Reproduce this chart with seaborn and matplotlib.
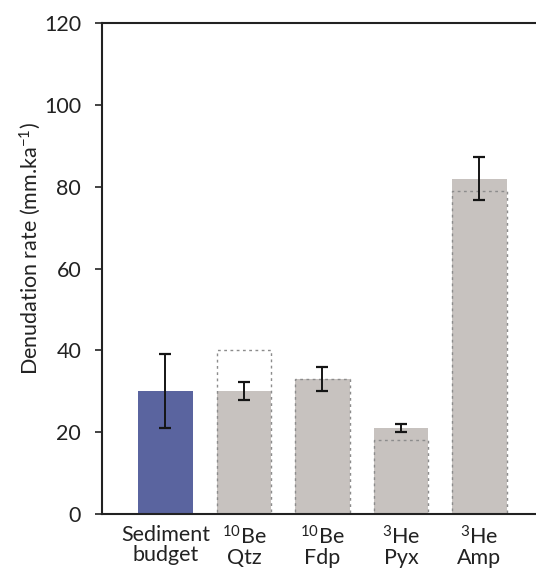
import numpy as np
import pandas as pd
import matplotlib
matplotlib.use("Agg")
import matplotlib.pyplot as plt
import seaborn as sns

# Denudation rates per method (mm/ka)
categories = ["Sediment\nbudget", "$^{10}$Be\nQtz", "$^{10}$Be\nFdp", "$^{3}$He\nPyx", "$^{3}$He\nAmp"]
rates = [30, 30, 33, 21, 82]
errors = [9, 2.2, 3, 1, 5.2]
# Alternative estimates shown as dashed outlines (no value for the sediment budget)
alt_categories = categories[1:]
alt_rates = [40, 33, 18, 79]

bar_colors = ["#4e5cab", "#c9c1bd", "#c9c1bd", "#c9c1bd", "#c9c1bd"]

sns.set_theme(style="white")
plt.rcParams["font.family"] = ["Lato", "DejaVu Sans"]
plt.rcParams["mathtext.fontset"] = "custom"
plt.rcParams["mathtext.rm"] = "Lato"
plt.rcParams["mathtext.it"] = "Lato:italic"
plt.rcParams["mathtext.bf"] = "Lato:bold"

FS = 15.5

fig = plt.figure(figsize=(5.36, 5.70), dpi=100)
ax = fig.add_axes([0.1903, 0.0982, 0.8097, 0.8614])

df = pd.DataFrame({"method": categories, "rate": rates})
sns.barplot(data=df, x="method", y="rate", hue="method", order=categories,
            palette=dict(zip(categories, bar_colors)), legend=False,
            width=0.69, edgecolor="none", linewidth=0, ax=ax)

df_alt = pd.DataFrame({"method": alt_categories, "rate": alt_rates})
sns.barplot(data=df_alt, x="method", y="rate", order=categories,
            fill=False, color="#8c8c8c", width=0.69, linewidth=1.0,
            linestyle=(0, (2.0, 2.5)), ax=ax)

ax.errorbar(np.arange(len(categories)), rates, yerr=errors, fmt="none",
            ecolor="#151515", elinewidth=1.4, capsize=4.5, capthick=1.6, zorder=5)

ax.set_ylim(0, 120)
ax.set_yticks(np.arange(0, 121, 20))
ax.set_xlim(-0.808, 4.72)
ax.set_xlabel("")
ax.set_ylabel("Denudation rate (mm.ka$^{-1}$)", fontsize=FS, color="#222222")
ax.yaxis.set_label_coords(-0.137, 0.54)

ax.tick_params(axis="y", direction="out", length=5, width=1.2, color="#222222",
               labelsize=FS, labelcolor="#222222", left=True, pad=10)
ax.tick_params(axis="x", length=0, labelsize=FS, labelcolor="#222222", pad=8)
for lab in ax.get_xticklabels():
    lab.set_linespacing(1.0)

for side in ["left", "bottom", "top"]:
    ax.spines[side].set_visible(True)
    ax.spines[side].set_color("#222222")
    ax.spines[side].set_linewidth(1.5)
ax.spines["right"].set_visible(False)

fig.savefig("out.png", dpi=100)
